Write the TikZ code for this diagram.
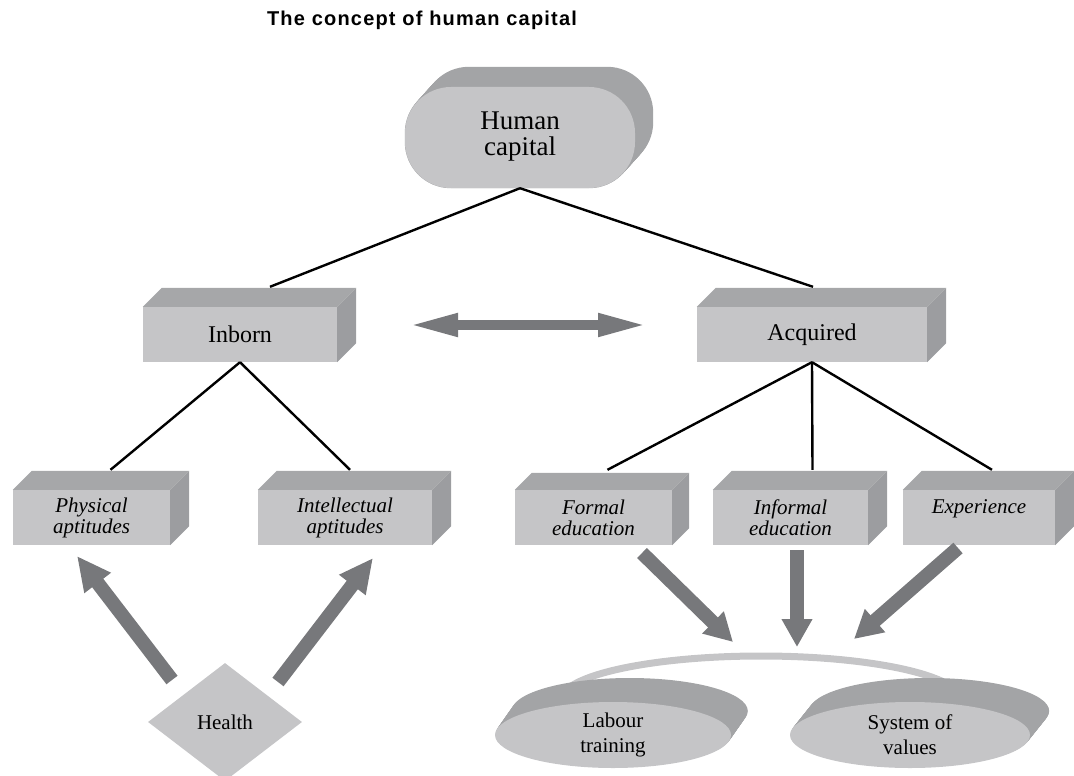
\documentclass[tikz,border=0pt]{standalone}
\usepackage{fontspec}
\setmainfont{Liberation Serif}
\newfontfamily\titlefont[LetterSpace=6]{Liberation Sans}
\usetikzlibrary{arrows.meta,shapes.geometric,calc,backgrounds}
\definecolor{frontc}{HTML}{C5C5C7}
\definecolor{topc}{HTML}{A6A7A9}
\definecolor{sidec}{HTML}{9C9DA0}
\definecolor{backc}{HTML}{A3A4A6}
\definecolor{arrc}{HTML}{77787B}
\tikzset{
  front/.style={fill=frontc, draw=none, inner sep=0pt, align=center},
  bigbox/.style={front, minimum height=55pt, font=\fontsize{24}{26}\selectfont},
  smallbox/.style={front, minimum height=55pt, font=\fontsize{21}{21}\selectfont\itshape},
  topface/.style={fill=topc, draw=none},
  sideface/.style={fill=sidec, draw=none},
  conn/.style={draw=black, line width=2.4pt},
  fatarrow/.style={draw=arrc, line width=14pt, -{Triangle[width=31pt,length=34pt]}},
  downarrow/.style={draw=arrc, line width=14pt, -{Triangle[width=29pt,length=28pt]}},
  dblarrow/.style={draw=arrc, line width=10pt, {Triangle[width=21pt,length=50pt]}-{Triangle[width=21pt,length=50pt]}},
  ring/.style={draw=frontc, line width=7pt},
  ell/.style={front, shape=ellipse, minimum width=236pt, minimum height=66pt, font=\fontsize{21}{25}\selectfont},
}
\newcommand\cubefaces[2]{%
  \fill[topface] (#1.north west) -- ++(#2,-#2) -- ($(#1.north east)+(#2,-#2)$) -- (#1.north east) -- cycle;
  \fill[sideface] (#1.north east) -- ++(#2,-#2) -- ($(#1.south east)+(#2,-#2)$) -- (#1.south east) -- cycle;}
\begin{document}
\begin{tikzpicture}[x=1pt,y=-1pt]
\useasboundingbox (0,0) rectangle (1074,776);

% title
\node[font={\fontsize{20}{22}\titlefont\bfseries}] (title) at (422,20) {The concept of human capital};

% human capital
\node[front, rounded corners=46pt, minimum width=230pt, minimum height=101pt,
      font=\fontsize{27}{26}\selectfont] (hc) at (520,137.5) {\raisebox{5pt}{\begin{tabular}{@{}c@{}}Human\\[-1pt]capital\end{tabular}}};
\begin{scope}[on background layer]
  \foreach \i in {0,...,20}
    \fill[backc, rounded corners=46pt] ($(hc.north west)+(\i*0.9,-\i)$) rectangle ($(hc.south east)+(\i*0.9,-\i)$);
\end{scope}

% level 2
\node[bigbox, minimum width=194pt] (inborn) at (240,334.5) {Inborn};
\cubefaces{inborn}{19}
\node[bigbox, minimum width=230pt] (acq) at (812,334.5) {Acquired};
\cubefaces{acq}{19}

% level 3
\node[smallbox, minimum width=157pt] (phys) at (91.5,517.5) {Physical\\aptitudes};
\cubefaces{phys}{19}
\node[smallbox, minimum width=174pt] (intel) at (345,517.5) {Intellectual\\aptitudes};
\cubefaces{intel}{19}
\node[smallbox, minimum width=157pt] (formal) at (593.5,517.5) {Formal\\education};
\cubefaces{formal}{17}
\node[smallbox, minimum width=155pt] (informal) at (790.5,517.5) {Informal\\education};
\cubefaces{informal}{19}
\node[smallbox, minimum width=152pt] (exp) at (979,517.5) {\raisebox{22pt}{Experience}};
\cubefaces{exp}{19}

% connector end points on the back top edges
\coordinate (inborn-t) at ($(inborn.north)+(30,-20)$);
\coordinate (acq-t) at ($(acq.north)+(1,-20)$);
\coordinate (phys-t) at ($(phys.north)+(19,-20)$);
\coordinate (intel-t) at ($(intel.north)+(5,-20)$);
\coordinate (formal-t) at ($(formal.north)+(14,-20)$);
\coordinate (informal-t) at ($(informal.north)+(22,-20)$);
\coordinate (exp-t) at ($(exp.north)+(13,-20)$);

\draw[conn] (hc.south) -- (inborn-t);
\draw[conn] (hc.south) -- (acq-t);
\draw[conn] (inborn.south) -- (phys-t);
\draw[conn] (inborn.south) -- (intel-t);
\draw[conn] (acq.south) -- (formal-t);
\draw[conn] (acq.south) -- (informal-t);
\draw[conn] (acq.south) -- (exp-t);

% double arrow between Inborn and Acquired
\coordinate (dl) at (408,325);
\coordinate (dr) at (648,325);
\draw[dblarrow] (dl) -- (dr);

% health
\node[front, shape=diamond, minimum width=154pt, minimum height=118pt,
      font=\fontsize{21}{22}\selectfont] (health) at (225,722) {Health};
\coordinate (hl-tail) at (172,680);
\coordinate (hl-tip) at (77,556);
\coordinate (hr-tail) at (278,682);
\coordinate (hr-tip) at (373,558);
\draw[fatarrow] (hl-tail) -- (hl-tip);
\draw[fatarrow] (hr-tail) -- (hr-tip);

% outputs
\node[ell] (lt) at (613,735) {Labour\\training};
\node[ell, minimum width=240pt] (sv) at (910,735) {System of\\values};
\begin{scope}[on background layer]
  \draw[ring] (561,700) arc[start angle=180, end angle=0, x radius=200pt, y radius=44pt];
  \foreach \i in {1,...,24}{
    \fill[backc] ($(lt.center)+(\i*0.7,-\i)$) ellipse [x radius=118pt, y radius=33pt];
    \fill[backc] ($(sv.center)+(\i*0.8,-\i)$) ellipse [x radius=120pt, y radius=33pt];
  }
\end{scope}

\coordinate (fa-tail) at (642,553);
\coordinate (fa-tip) at (733,642);
\coordinate (ia-tail) at (797,550);
\coordinate (ia-tip) at (797,647);
\coordinate (ea-tail) at (958,548);
\coordinate (ea-tip) at (854,639);
\draw[downarrow] (fa-tail) -- (fa-tip);
\draw[downarrow] (ia-tail) -- (ia-tip);
\draw[downarrow] (ea-tail) -- (ea-tip);
\end{tikzpicture}
\end{document}
